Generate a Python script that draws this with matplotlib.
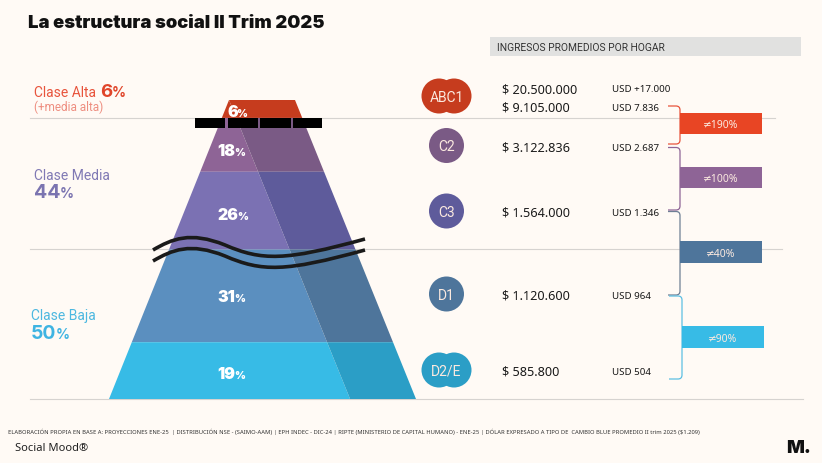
import matplotlib
matplotlib.use('Agg')
import matplotlib.pyplot as plt
from matplotlib.patches import Circle, PathPatch, Polygon, Rectangle
from matplotlib.path import Path

# Data
band_shares = [6, 18, 26, 31, 19]
band_light = ['#C63C1E', '#8E6496', '#7B71B3', '#5B8FBF', '#37BBE6']
band_dark = ['#C63C1E', '#7A5A85', '#5E5B9B', '#4E759B', '#2B9EC6']

class_names = ['Clase Alta', 'Clase Media', 'Clase Baja']
class_shares = [6, 44, 50]

segments = ['ABC1', 'C2', 'C3', 'D1', 'D2/E']
segment_colors = ['#C63C1E', '#7A5A85', '#5E5B9B', '#4E759B', '#2B9EC6']
incomes = ['$ 20.500.000', '$ 9.105.000', '$ 3.122.836', '$ 1.564.000', '$ 1.120.600', '$ 585.800']
incomes_usd = ['USD +17.000', 'USD 7.836', 'USD 2.687', 'USD 1.346', 'USD 964', 'USD 504']
gaps = ['≠190%', '≠100%', '≠40%', '≠90%']
gap_colors = ['#E84524', '#8E6496', '#4E759B', '#37BBE6']

BG = '#FFFAF5'
SANS = ['Noto Sans', 'DejaVu Sans']
HEAVY = ['Inter', 'DejaVu Sans']

fig = plt.figure(figsize=(8.22, 4.64), dpi=100, facecolor=BG)
ax = fig.add_axes([0, 0, 1, 1])
ax.set_xlim(0, 822)
ax.set_ylim(464, 0)
ax.axis('off')


def left_x(y):
    return 229 - (y - 101) * 120 / 299


def right_x(y):
    return 295 + (y - 101) * 121 / 299


def split_x(y):
    return 229 + (y - 101) * 0.405


def joined_text(x, y, parts, color, **kw):
    # draws big number + small % side by side
    renderer = fig.canvas.get_renderer()
    for s, size in parts:
        t = ax.text(x, y, s, color=color, fontsize=size, va='baseline', **kw)
        box = t.get_window_extent(renderer)
        x += box.width - 1


# separator lines
for y, x1 in [(119, 775), (250, 782), (400, 803)]:
    ax.plot([30, x1], [y, y], color='#D6D3D0', lw=0.8, zorder=1)

# pyramid, band heights follow the shares
y_top = 101
scale = 299 / sum(band_shares)
band_edges = [y_top]
for share in band_shares:
    band_edges.append(band_edges[-1] + share * scale)

for i, share in enumerate(band_shares):
    y0, y1 = band_edges[i], band_edges[i + 1]
    ax.add_patch(Polygon([(left_x(y0), y0), (split_x(y0), y0), (split_x(y1), y1), (left_x(y1), y1)],
                         closed=True, fc=band_light[i], ec='none', zorder=2))
    ax.add_patch(Polygon([(split_x(y0), y0), (right_x(y0), y0), (right_x(y1), y1), (split_x(y1), y1)],
                         closed=True, fc=band_dark[i], ec='none', zorder=2))

# band labels
label_pos = [(227, 117), (217, 156), (217, 220), (217, 302), (217, 379)]
for share, (x, y) in zip(band_shares, label_pos):
    joined_text(x, y, [(str(share), 11.5), ('%', 7.5)], 'white', family=HEAVY, fontweight='black', zorder=6)

# black cut bar on top
for x0, x1 in [(195, 225), (228, 258), (260, 291), (293, 322)]:
    ax.add_patch(Rectangle((x0, 119), x1 - x0, 9.5, fc='black', ec='none', zorder=5))

# wavy cut lines
for dy in [0, 11]:
    verts = [(153, 251 + dy), (172, 240 + dy), (190, 232 + dy), (225, 246 + dy),
             (262, 262 + dy), (285, 262 + dy), (365, 240 + dy)]
    codes = [Path.MOVETO] + [Path.CURVE4] * 6
    ax.add_patch(PathPatch(Path(verts, codes), fc='none', ec='#1A1A1A', lw=2.6, zorder=5))

# class labels on the left
ax.text(34, 97, class_names[0], color='#E8543C', fontsize=10, family='Roboto')
joined_text(100, 97, [(str(class_shares[0]), 13.5), ('%', 10)], '#E0452A', family=HEAVY, fontweight='bold')
ax.text(34, 111, '(+media alta)', color='#EE8E80', fontsize=8.5, family='Roboto')
ax.text(34, 180, class_names[1], color='#8079B4', fontsize=10, family='Roboto')
joined_text(34, 198, [(str(class_shares[1]), 14), ('%', 10)], '#7B74B0', family=HEAVY, fontweight='bold')
ax.text(31, 320, class_names[2], color='#4DB8E0', fontsize=10, family='Roboto')
joined_text(31, 339, [(str(class_shares[2]), 14), ('%', 10)], '#3FB4E2', family=HEAVY, fontweight='bold')

# segment circles
seg_y = [97, 146.5, 212, 295, 371]
for name, color, y in zip(segments, segment_colors, seg_y):
    centers = [439, 454] if len(name) > 2 else [446.5]
    for cx in centers:
        ax.add_patch(Circle((cx, y), 17.5, fc=color, ec='none', zorder=3))
    ax.text(446.5, y + 1, name, color='#FBE9DF', fontsize=10, family='Roboto',
            ha='center', va='center', zorder=4)

# header
ax.add_patch(Rectangle((490, 38), 311, 19, fc='#E1E1E0', ec='none', zorder=2))
ax.text(497, 48, 'INGRESOS PROMEDIOS POR HOGAR', color='#333333', fontsize=7.4,
        family='Roboto', va='center', zorder=3)

# incomes
row_y = [88.5, 107, 147, 212, 295, 371]
for inc, usd, y in zip(incomes, incomes_usd, row_y):
    ax.text(502, y + 1.5, inc, color='#1A1A1A', fontsize=9.1, family=SANS, va='center', zorder=3)
    ax.text(612, y + 1.5, usd, color='#1A1A1A', fontsize=7, family=SANS, va='center', zorder=3)


def brace(x0, x1, y0, y1, color):
    r = 4
    verts = [(x0, y0), (x1 - r, y0), (x1, y0), (x1, y0 + r), (x1, y1 - r), (x1, y1), (x1 - r, y1), (x0, y1)]
    codes = [Path.MOVETO, Path.LINETO, Path.CURVE3, Path.CURVE3, Path.LINETO, Path.CURVE3, Path.CURVE3, Path.LINETO]
    ax.add_patch(PathPatch(Path(verts, codes), fc='none', ec=color, lw=0.9, zorder=2))


brace(668, 680, 107, 145, '#E8543C')
brace(668, 680, 148.5, 211, '#8E6496')
brace(668, 680, 212.5, 296, '#6E7F95')
brace(669, 682, 297, 380, '#5DBFE3')

# gap boxes
gap_boxes = [(680, 114, 135), (680, 167.5, 188.5), (680, 242, 263.5), (681.5, 327, 348.5)]
for txt, color, (x, y0, y1) in zip(gaps, gap_colors, gap_boxes):
    ax.add_patch(Rectangle((x, y0), 82, y1 - y0, fc=color, ec='none', zorder=3))
    ax.text(x + 41, (y0 + y1) / 2 + 1.5, txt, color='#FBE9DF', fontsize=7.5, family=SANS,
            ha='center', va='center', zorder=4)

# title and footer
ax.text(28, 23, 'La estructura social II Trim 2025', color='#111111', fontsize=13.25,
        family=HEAVY, fontweight='black', va='center')
ax.text(8, 432, 'ELABORACIÓN PROPIA EN BASE A: PROYECCIONES ENE-25  | DISTRIBUCIÓN NSE - (SAIMO-AAM) | '
        'EPH INDEC - DIC-24 | RIPTE (MINISTERIO DE CAPITAL HUMANO) - ENE-25 | '
        'DÓLAR EXPRESADO A TIPO DE  CAMBIO BLUE PROMEDIO II trim 2025 ($1.209)',
        color='#333333', fontsize=4.2, family=SANS, va='center')
ax.text(15, 449, 'Social Mood®', color='#222222', fontsize=8, family=SANS, va='center')
ax.text(786, 449, 'M.', color='#111111', fontsize=13.5, family=HEAVY, fontweight='black', va='center')

fig.savefig('out.png', dpi=100, facecolor=BG)
